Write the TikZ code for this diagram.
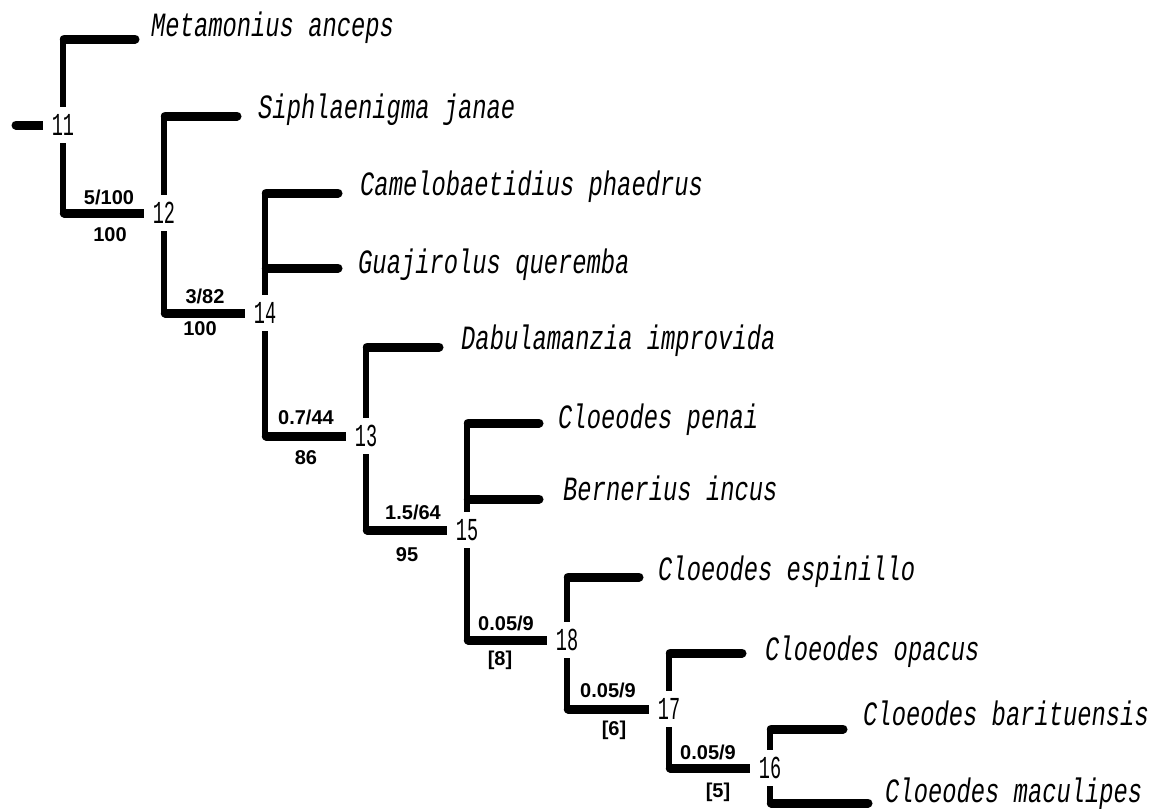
\documentclass[tikz,border=0pt]{standalone}
\usepackage{fontspec}
\setmainfont{Liberation Sans}
\newfontfamily\taxfont[FakeStretch=0.70]{Liberation Mono}
\newfontfamily\numfont[FakeStretch=0.58]{Liberation Mono}
\pgfdeclarelayer{background}
\pgfsetlayers{background,main}
\tikzset{
  vbr/.style={line width=6.5pt, line cap=round},
  hbr/.style={line width=9pt, line cap=round},
  lab/.style={fill=white, minimum width=40pt, minimum height=36pt, inner sep=0pt,
    font=\numfont\fontsize{32}{32}\selectfont},
  tax/.style={anchor=base west, inner sep=0pt,
    font=\taxfont\itshape\fontsize{34}{34}\selectfont},
  supp/.style={inner sep=0pt, font=\bfseries\fontsize{20}{20}\selectfont},
}
\begin{document}
\begin{tikzpicture}[x=1pt,y=-1pt]
\useasboundingbox (0,0) rectangle (1152,809);

% internal nodes
\node[lab] (n11) at (63,125) {11};
\node[lab] (n12) at (164,213) {12};
\node[lab] (n14) at (265,313) {14};
\node[lab] (n13) at (366,436) {13};
\node[lab] (n15) at (467,530) {15};
\node[lab] (n18) at (567,640) {18};
\node[lab] (n17) at (669,709) {17};
\node[lab] (n16) at (770,768) {16};

% branch tips
\coordinate (root) at (16,125);
\coordinate (emeta) at (135,39);
\coordinate (esiph) at (237,116);
\coordinate (ecame) at (338,193);
\coordinate (eguaj) at (338,268);
\coordinate (edabu) at (439,347);
\coordinate (epena) at (539,423);
\coordinate (ebern) at (539,499);
\coordinate (eespi) at (639,577);
\coordinate (eopac) at (742,653);
\coordinate (ebari) at (843,729);
\coordinate (emacu) at (868,803);

% taxa
\node[tax] (tmeta) at (151,36) {Metamonius anceps};
\node[tax] (tsiph) at (258,118) {Siphlaenigma janae};
\node[tax] (tcame) at (360,195) {Camelobaetidius phaedrus};
\node[tax] (tguaj) at (358,273) {Guajirolus queremba};
\node[tax] (tdabu) at (461,349) {Dabulamanzia improvida};
\node[tax] (tpena) at (558,428) {Cloeodes penai};
\node[tax] (tbern) at (563,500) {Bernerius incus};
\node[tax] (tespi) at (658,580) {Cloeodes espinillo};
\node[tax] (topac) at (765,660) {Cloeodes opacus};
\node[tax] (tbari) at (863,725) {Cloeodes barituensis};
\node[tax] (tmacu) at (885,802) {Cloeodes maculipes};

% support values
\node[supp] (sa1) at (109,197) {5/100};
\node[supp] (sb1) at (110,235) {100};
\node[supp] (sa2) at (205,296) {3/82};
\node[supp] (sb2) at (200,329) {100};
\node[supp] (sa3) at (306,417) {0.7/44};
\node[supp] (sb3) at (306,458) {86};
\node[supp] (sa4) at (413,512) {1.5/64};
\node[supp] (sb4) at (407,555) {95};
\node[supp] (sa5) at (506,623) {0.05/9};
\node[supp] (sb5) at (500,660) {[8]};
\node[supp] (sa6) at (608,690) {0.05/9};
\node[supp] (sb6) at (614,730) {[6]};
\node[supp] (sa7) at (708,752) {0.05/9};
\node[supp] (sb7) at (718,792) {[5]};

\begin{pgfonlayer}{background}
\fill[white] (0,0) rectangle (1152,809);
\draw[hbr] (root) -- (n11.center);
\foreach \p/\c in {n11/emeta, n11/n12, n12/esiph, n12/n14, n14/ecame, n14/eguaj,
  n14/n13, n13/edabu, n13/n15, n15/epena, n15/ebern, n15/n18, n18/eespi,
  n18/n17, n17/eopac, n17/n16, n16/ebari, n16/emacu} {
  \draw[vbr] (\p.center) -- (\p.center |- \c.center);
  \draw[hbr] ([xshift=1.25pt]\p.center |- \c.center) -- (\c.center);
}
\end{pgfonlayer}
\end{tikzpicture}
\end{document}
